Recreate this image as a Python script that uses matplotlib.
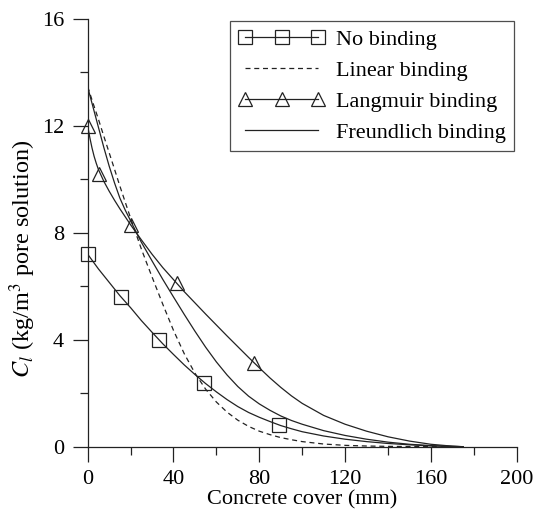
import matplotlib
matplotlib.use('Agg')
import matplotlib.pyplot as plt
from matplotlib.lines import Line2D

plt.rcParams['font.family'] = ['Liberation Serif', 'DejaVu Serif']
plt.rcParams['mathtext.fontset'] = 'stix'

# 曲线数据
x_none = [0, 5, 10, 15, 20, 25, 30, 35, 40, 45, 50, 55, 60, 65, 70, 75, 80, 85, 90, 95, 100,
          110, 120, 130, 140, 150, 160, 170, 175]
y_none = [7.2, 6.65, 6.15, 5.65, 5.2, 4.72, 4.28, 3.85, 3.45, 3.06, 2.7, 2.36, 2.05, 1.76, 1.5, 1.28, 1.1,
          0.94, 0.79, 0.67, 0.56, 0.4, 0.28, 0.19, 0.12, 0.07, 0.03, 0.01, 0.0]
x_none_pts = [0, 15.5, 33.2, 54.2, 89.3]
y_none_pts = [7.2, 5.6, 4.0, 2.4, 0.81]

x_linear = [0, 2.5, 5, 7.5, 10, 12.5, 15, 17.5, 20, 22.5, 25, 27.5, 30, 35, 40, 45, 50, 55, 60, 65,
            70, 75, 80, 85, 90, 95, 100, 110, 120, 130, 140, 150, 160, 175]
y_linear = [13.47, 12.85, 12.25, 11.62, 11.0, 10.38, 9.75, 9.15, 8.55, 7.97, 7.4, 6.87, 6.35, 5.33, 4.35,
            3.48, 2.75, 2.15, 1.67, 1.29, 0.99, 0.76, 0.58, 0.45, 0.34, 0.26, 0.19, 0.1, 0.05, 0.025,
            0.012, 0.005, 0.0, 0.0]

x_lang = [0, 1, 2, 3, 4, 5, 7.5, 10, 12.5, 15, 17.5, 20, 25, 30, 35, 40, 45, 50, 55, 60, 65, 70, 75,
          80, 85, 90, 95, 100, 110, 120, 130, 140, 150, 160, 170, 175]
y_lang = [12.0, 11.56, 11.18, 10.86, 10.6, 10.37, 9.93, 9.56, 9.22, 8.9, 8.6, 8.3, 7.74, 7.2, 6.7, 6.25,
          5.8, 5.38, 4.96, 4.55, 4.14, 3.74, 3.34, 2.95, 2.57, 2.22, 1.9, 1.62, 1.17, 0.84, 0.58, 0.37,
          0.21, 0.09, 0.02, 0.0]
x_lang_pts = [0, 5.5, 20, 41.5, 77.5]
y_lang_pts = [12.0, 10.2, 8.29, 6.14, 3.12]

x_freund = [0, 2.5, 5, 7.5, 10, 12.5, 15, 17.5, 20, 22.5, 25, 30, 35, 40, 45, 50, 55, 60, 65, 70, 75,
            80, 85, 90, 95, 100, 110, 120, 130, 140, 150, 160, 170, 175]
y_freund = [13.45, 12.7, 11.95, 11.2, 10.5, 9.87, 9.3, 8.85, 8.45, 8.04, 7.65, 6.95, 6.26, 5.6, 4.95,
            4.32, 3.72, 3.17, 2.68, 2.25, 1.89, 1.6, 1.36, 1.15, 0.98, 0.84, 0.6, 0.42, 0.28, 0.17,
            0.09, 0.04, 0.01, 0.0]

labels = ['No binding', 'Linear binding', 'Langmuir binding', 'Freundlich binding']

c = '#222222'
lw = 0.9
ms = 10
fs = 16

fig = plt.figure(figsize=(5.36, 5.27), dpi=100)
ax = fig.add_axes([0.1636, 0.1524, 0.8004, 0.8116])

ax.plot(x_none, y_none, color=c, lw=lw)
ax.plot(x_none_pts, y_none_pts, ls='none', marker='s', ms=ms, mfc='none', mec=c, mew=lw, clip_on=False)
ax.plot(x_linear, y_linear, color=c, lw=lw, ls=(0, (4, 3)))
ax.plot(x_lang, y_lang, color=c, lw=lw)
ax.plot(x_lang_pts, y_lang_pts, ls='none', marker='^', ms=ms, mfc='none', mec=c, mew=lw, clip_on=False)
ax.plot(x_freund, y_freund, color=c, lw=lw)

ax.set_xlim(0, 200)
ax.set_ylim(0, 16)
ax.set_xticks([0, 40, 80, 120, 160, 200])
ax.set_xticks([20, 60, 100, 140, 180], minor=True)
ax.set_yticks([0, 4, 8, 12, 16])
ax.set_yticks([2, 6, 10, 14], minor=True)
ax.spines['top'].set_visible(False)
ax.spines['right'].set_visible(False)
for s in ['left', 'bottom']:
    ax.spines[s].set_color(c)
    ax.spines[s].set_linewidth(lw)
ax.tick_params(which='major', direction='out', length=11, width=lw, color=c, labelsize=fs, pad=6)
ax.tick_params(which='minor', direction='out', length=5.5, width=lw, color=c)

ax.set_xlabel('Concrete cover (mm)', fontsize=fs, labelpad=1)
ax.set_ylabel(r'$C_l$ (kg/m$^3$ pore solution)', fontsize=17.5, labelpad=3)
ax.yaxis.label.set_y(0.44)

handles = [
    Line2D([], [], color=c, lw=lw, marker='s', ms=ms, mfc='none', mec=c, mew=lw),
    Line2D([], [], color=c, lw=lw, ls=(0, (4, 3))),
    Line2D([], [], color=c, lw=lw, marker='^', ms=ms, mfc='none', mec=c, mew=lw),
    Line2D([], [], color=c, lw=lw),
]
leg = ax.legend(handles, labels, loc='upper right', bbox_to_anchor=(1.0, 1.0), borderaxespad=0.1,
                fontsize=fs, numpoints=3, handlelength=3.9, handletextpad=0.5, labelspacing=0.46,
                fancybox=False, frameon=True, borderpad=0.38)
leg.get_frame().set_edgecolor(c)
leg.get_frame().set_linewidth(lw)

fig.savefig('out.png', dpi=100)
